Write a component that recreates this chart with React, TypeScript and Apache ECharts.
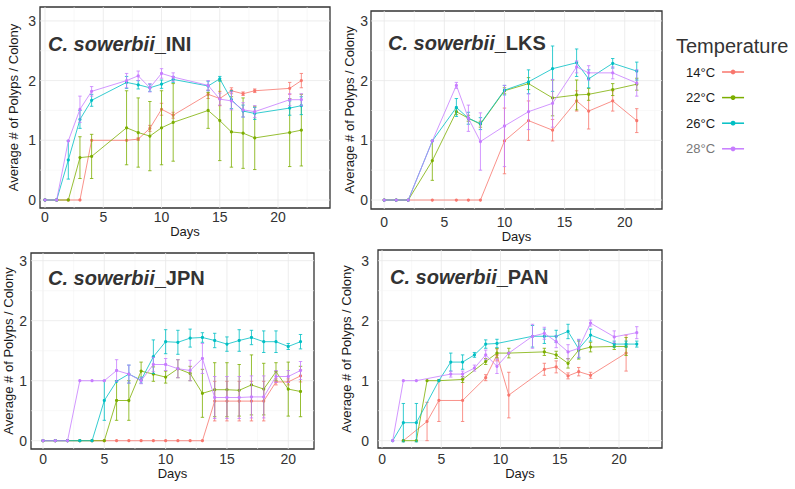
import React, { useEffect, useRef } from "react";
import * as echarts from "echarts";

const FONT = "'Liberation Sans', Arial, Helvetica, sans-serif";
const TEMPS = ["14°C", "22°C", "26°C", "28°C"];
const COLORS = ["#F8766D", "#7CAE00", "#00BFC4", "#C77CFF"];
const X_BREAKS = [0, 5, 10, 15, 20];
const X_MINOR = [2.5, 7.5, 12.5, 17.5, 22.5];
const Y_BREAKS = [0, 1, 2, 3];
const Y_MINOR = [0.5, 1.5, 2.5];

// ---- C. sowerbii_INI ----
const INI_DAYS = [0, 1, 2, 3, 4, 7, 8, 9, 10, 11, 14, 15, 16, 17, 18, 21, 22];
const INI_14 = [0, 0, 0, 0, 1.0, 1.0, 1.02, 1.2, 1.52, 1.42, 1.77, 1.7, 1.83, 1.78, 1.83, 1.87, 2.0];
const INI_14_ERR = [0, 0, 0, 0, 0, 0, 0.02, 0.05, 0.1, 0.05, 0.07, 0.12, 0.05, 0.03, 0.03, 0.1, 0.12];
const INI_22 = [0, 0, 0, 0.71, 0.73, 1.21, 1.13, 1.07, 1.21, 1.3, 1.5, 1.33, 1.14, 1.12, 1.04, 1.13, 1.17];
const INI_22_ERR = [0, 0, 0, 0.35, 0.37, 0.62, 0.58, 0.58, 0.62, 0.65, 0.3, 0.67, 0.59, 0.59, 0.53, 0.57, 0.6];
const INI_26 = [0, 0, 0.67, 1.35, 1.67, 1.97, 1.93, 1.88, 1.94, 2.02, 1.91, 2.03, 1.68, 1.49, 1.45, 1.54, 1.58];
const INI_26_ERR = [0, 0, 0.32, 0.15, 0.1, 0.1, 0.07, 0.06, 0.07, 0.05, 0.08, 0.04, 0.15, 0.1, 0.1, 0.12, 0.15];
const INI_28 = [0, 0, 0.99, 1.52, 1.82, 2.0, 2.08, 1.88, 2.12, 2.06, 1.92, 1.69, 1.66, 1.51, 1.48, 1.68, 1.68];
const INI_28_ERR = [0, 0, 0, 0.22, 0.08, 0.12, 0.08, 0.07, 0.08, 0.07, 0.08, 0.1, 0.15, 0.12, 0.1, 0.1, 0.1];

// ---- C. sowerbii_LKS ----
const LKS_DAYS = [0, 1, 2, 4, 6, 7, 8, 10, 12, 14, 16, 17, 19, 21];
const LKS_14 = [0, 0, 0, 0, 0, 0, 0, 0.99, 1.33, 1.17, 1.66, 1.49, 1.66, 1.33];
const LKS_14_ERR = [0, 0, 0, 0, 0, 0, 0, 0.55, 0.33, 0.18, 0.17, 0.3, 0.17, 0.2];
const LKS_22 = [0, 0, 0, 0.66, 1.48, 1.37, 1.27, 1.83, 1.95, 1.71, 1.76, 1.77, 1.85, 1.94];
const LKS_22_ERR = [0, 0, 0, 0.33, 0.05, 0.05, 0.05, 0.05, 0.1, 0.3, 0.25, 0.1, 0.1, 0.1];
const LKS_26 = [0, 0, 0, 0.99, 1.55, 1.37, 1.28, 1.84, 1.98, 2.2, 2.3, 2.03, 2.29, 2.16];
const LKS_26_ERR = [0, 0, 0, 0, 0.15, 0.1, 0.1, 0.08, 0.2, 0.38, 0.23, 0.15, 0.08, 0.15];
const LKS_28 = [0, 0, 0, 0.99, 1.92, 1.37, 0.98, 1.24, 1.48, 1.62, 2.23, 2.13, 2.13, 1.96];
const LKS_28_ERR = [0, 0, 0, 0, 0.05, 0.22, 0.48, 0.68, 0.3, 0.4, 0.1, 0.12, 0.1, 0.22];

// ---- C. sowerbii_JPN ----
const JPN_DAYS = [0, 1, 2, 3, 4, 5, 6, 7, 8, 9, 10, 11, 12, 13, 14, 15, 16, 17, 18, 19, 20, 21];
const JPN_14 = [0, 0, 0, 0, 0, 0, 0, 0, 0, 0, 0, 0, 0, 0, 0.66, 0.66, 0.66, 0.66, 0.66, 0.98, 0.98, 1.08];
const JPN_14_ERR = [0, 0, 0, 0, 0, 0, 0, 0, 0, 0, 0, 0, 0, 0, 0.33, 0.33, 0.33, 0.33, 0.33, 0.05, 0.05, 0.1];
const JPN_22 = [0, 0, 0, 0, 0, 0, 0.67, 0.67, 1.16, 1.11, 1.06, 1.2, 1.12, 0.79, 0.85, 0.85, 0.84, 0.93, 0.86, 1.15, 0.86, 0.82];
const JPN_22_ERR = [0, 0, 0, 0, 0, 0, 0.33, 0.33, 0.15, 0.12, 0.1, 0.15, 0.12, 0.4, 0.45, 0.45, 0.43, 0.5, 0.43, 0.15, 0.45, 0.42];
const JPN_26 = [0, 0, 0, 0, 0, 0.67, 0.99, 1.11, 1.01, 1.4, 1.65, 1.64, 1.71, 1.72, 1.67, 1.61, 1.67, 1.72, 1.65, 1.65, 1.57, 1.65];
const JPN_26_ERR = [0, 0, 0, 0, 0, 0.33, 0, 0.15, 0.05, 0.28, 0.2, 0.2, 0.15, 0.08, 0.12, 0.12, 0.18, 0.12, 0.18, 0.18, 0.05, 0.12];
const JPN_28 = [0, 0, 0, 1.0, 1.0, 1.0, 1.17, 1.11, 1.0, 1.27, 1.27, 1.2, 1.17, 1.37, 0.72, 0.72, 0.72, 0.73, 0.73, 1.07, 1.07, 1.17];
const JPN_28_ERR = [0, 0, 0, 0, 0, 0, 0.18, 0.15, 0.05, 0.12, 0.1, 0.15, 0.17, 0.25, 0.35, 0.35, 0.35, 0.35, 0.35, 0.1, 0.1, 0.15];

// ---- C. sowerbii_PAN ----
const PAN_DAYS = [0.9, 1.8, 2.9, 3.8, 4.8, 5.8, 6.8, 7.8, 8.75, 9.7, 10.7, 12.7, 13.7, 14.7, 15.7, 16.6, 17.6, 19.6, 20.6, 21.5];
const PAN_14 = [null, 0, null, 0.32, 0.67, null, 0.67, null, 1.05, 1.43, 0.76, null, 1.19, 1.23, 1.08, 1.15, 1.09, null, 1.46, null];
const PAN_14_ERR = [0, 0, 0, 0.32, 0.35, 0, 0.35, 0, 0.05, 0.1, 0.38, 0, 0.1, 0.1, 0.05, 0.07, 0.05, 0, 0.3, 0];
const PAN_22 = [null, 0, 0, 1.0, 1.0, null, 1.02, null, 1.32, 1.46, 1.46, null, 1.48, 1.43, 1.29, 1.51, 1.56, 1.57, 1.57, null];
const PAN_22_ERR = [0, 0, 0, 0, 0, 0, 0.05, 0, 0.05, 0.08, 0.08, 0, 0.06, 0.06, 0.08, 0.15, 0.08, 0.05, 0.15, 0];
const PAN_26 = [0, 0.3, 0.3, null, 1.0, 1.31, 1.31, 1.43, 1.61, 1.62, null, 1.74, 1.74, 1.74, 1.82, 1.53, 1.76, 1.61, 1.61, 1.61];
const PAN_26_ERR = [0, 0.32, 0.32, 0, 0, 0.15, 0.12, 0.04, 0.07, 0.07, 0, 0.18, 0.12, 0.1, 0.12, 0.15, 0.1, 0.05, 0.05, 0.05];
const PAN_28 = [0, 1.0, 1.0, null, null, 1.11, 1.11, 1.21, 1.43, 1.24, 1.46, 1.74, 1.79, 1.65, 1.48, 1.54, 1.96, 1.73, null, 1.8];
const PAN_28_ERR = [0, 0, 0, 0, 0, 0.05, 0.05, 0.05, 0.08, 0.12, 0, 0.2, 0.1, 0.1, 0.12, 0.15, 0.05, 0.1, 0, 0.1];

type Panel = {
  code: string;
  days: number[];
  vals: (number | null)[][];
  errs: number[][];
  rect: { left: number; top: number; width: number; height: number };
  x: [number, number];
  y: [number, number];
  yNameGap: number;
  xNameGap: number;
  yLabelMargin: number;
  xLabelMargin: number;
  title: { left: number; top: number };
};

const PANELS: Panel[] = [
  {
    code: "INI", days: INI_DAYS,
    vals: [INI_14, INI_22, INI_26, INI_28], errs: [INI_14_ERR, INI_22_ERR, INI_26_ERR, INI_28_ERR],
    rect: { left: 40, top: 7, width: 290, height: 201 },
    x: [-0.43, 24.46], y: [-0.134, 3.233],
    yNameGap: 20, xNameGap: 15, yLabelMargin: 4, xLabelMargin: 2,
    title: { left: 48, top: 34 },
  },
  {
    code: "LKS", days: LKS_DAYS,
    vals: [LKS_14, LKS_22, LKS_26, LKS_28], errs: [LKS_14_ERR, LKS_22_ERR, LKS_26_ERR, LKS_28_ERR],
    rect: { left: 371, top: 11, width: 291, height: 198 },
    x: [-1.1, 23.1], y: [-0.15, 3.166],
    yNameGap: 15, xNameGap: 18, yLabelMargin: 3, xLabelMargin: 6,
    title: { left: 388, top: 33 },
  },
  {
    code: "JPN", days: JPN_DAYS,
    vals: [JPN_14, JPN_22, JPN_26, JPN_28], errs: [JPN_14_ERR, JPN_22_ERR, JPN_26_ERR, JPN_28_ERR],
    rect: { left: 31, top: 253, width: 283, height: 196 },
    x: [-0.98, 22.1], y: [-0.138, 3.128],
    yNameGap: 12, xNameGap: 15, yLabelMargin: 4, xLabelMargin: 3,
    title: { left: 48, top: 268 },
  },
  {
    code: "PAN", days: PAN_DAYS,
    vals: [PAN_14, PAN_22, PAN_26, PAN_28], errs: [PAN_14_ERR, PAN_22_ERR, PAN_26_ERR, PAN_28_ERR],
    rect: { left: 378, top: 250, width: 284, height: 198 },
    x: [-0.34, 23.63], y: [-0.122, 3.178],
    yNameGap: 25, xNameGap: 19, yLabelMargin: 9, xLabelMargin: 4,
    title: { left: 390, top: 267 },
  },
];

function buildOption() {
  const grid: any[] = [];
  const xAxis: any[] = [];
  const yAxis: any[] = [];
  const series: any[] = [];
  const title: any[] = [];

  PANELS.forEach((p, i) => {
    grid.push({ ...p.rect, show: true, borderColor: "#333", borderWidth: 1.3, containLabel: false });
    xAxis.push({
      type: "value", gridIndex: i, min: p.x[0], max: p.x[1],
      name: "Days", nameLocation: "middle", nameGap: p.xNameGap,
      nameTextStyle: { fontSize: 13, color: "#1a1a1a", fontFamily: FONT },
      axisLine: { show: false }, axisTick: { show: false }, splitLine: { show: false },
      axisLabel: { customValues: X_BREAKS, fontSize: 14, color: "#333", margin: p.xLabelMargin, fontFamily: FONT },
    });
    yAxis.push({
      type: "value", gridIndex: i, min: p.y[0], max: p.y[1],
      name: "Average # of Polyps / Colony", nameLocation: "middle", nameRotate: 90, nameGap: p.yNameGap,
      nameTextStyle: { fontSize: 13, color: "#1a1a1a", fontFamily: FONT },
      axisLine: { show: false }, axisTick: { show: false }, splitLine: { show: false },
      axisLabel: { customValues: Y_BREAKS, fontSize: 14, color: "#333", margin: p.yLabelMargin, fontFamily: FONT },
    });

    // background grid lines (major + minor), drawn through the axes' scales
    const gridData: number[][] = [];
    X_BREAKS.forEach((v) => gridData.push([v, p.y[0], 0]));
    X_MINOR.filter((v) => v < p.x[1]).forEach((v) => gridData.push([v, p.y[0], 1]));
    Y_BREAKS.forEach((v) => gridData.push([p.x[0], v, 2]));
    Y_MINOR.forEach((v) => gridData.push([p.x[0], v, 3]));
    series.push({
      type: "custom", xAxisIndex: i, yAxisIndex: i, silent: true, z: 1,
      data: gridData, encode: { x: 0, y: 1 },
      renderItem: (params: any, api: any) => {
        const cs = params.coordSys;
        const kind = api.value(2);
        const pt = api.coord([api.value(0), api.value(1)]);
        const major = kind === 0 || kind === 2;
        const style = { stroke: major ? "#e9e9e9" : "#f4f4f4", lineWidth: major ? 0.8 : 0.6 };
        if (kind <= 1) {
          return { type: "line", shape: { x1: pt[0], y1: cs.y, x2: pt[0], y2: cs.y + cs.height }, style };
        }
        return { type: "line", shape: { x1: cs.x, y1: pt[1], x2: cs.x + cs.width, y2: pt[1] }, style };
      },
    });

    TEMPS.forEach((t, k) => {
      const color = COLORS[k];
      const vals = p.vals[k];
      const errs = p.errs[k];
      const errData: number[][] = [];
      const lineData: number[][] = [];
      p.days.forEach((d, j) => {
        const v = vals[j];
        if (v === null || v === undefined) return;
        lineData.push([d, v]);
        if (errs[j] > 0) errData.push([d, v - errs[j], v + errs[j]]);
      });
      series.push({
        type: "custom", name: t + " err", xAxisIndex: i, yAxisIndex: i, silent: true, z: 2 + k,
        data: errData, encode: { x: 0, y: [1, 2] },
        renderItem: (params: any, api: any) => {
          const x = api.value(0);
          const a = api.coord([x, api.value(1)]);
          const b = api.coord([x, api.value(2)]);
          const c = 1.7;
          const style = { stroke: color, lineWidth: 0.8 };
          return {
            type: "group",
            children: [
              { type: "line", shape: { x1: a[0], y1: a[1], x2: b[0], y2: b[1] }, style },
              { type: "line", shape: { x1: a[0] - c, y1: a[1], x2: a[0] + c, y2: a[1] }, style },
              { type: "line", shape: { x1: b[0] - c, y1: b[1], x2: b[0] + c, y2: b[1] }, style },
            ],
          };
        },
      });
      series.push({
        type: "line", name: t, xAxisIndex: i, yAxisIndex: i, z: 2 + k,
        data: lineData, color,
        symbol: "circle", symbolSize: 3.2, showSymbol: true,
        lineStyle: { width: 0.8, color }, itemStyle: { color },
        connectNulls: true,
      });
    });

    title.push({
      text: "{i|C. sowerbii}{n|_" + p.code + "}",
      left: p.title.left, top: p.title.top, padding: 0,
      textStyle: {
        rich: {
          i: { fontStyle: "italic", fontWeight: "bold", fontSize: 20, color: "#333", fontFamily: FONT },
          n: { fontWeight: "bold", fontSize: 20, color: "#333", fontFamily: FONT },
        },
      },
    });
  });

  title.push({
    text: "Temperature", left: 676, top: 36, padding: 0,
    textStyle: { fontSize: 20, fontWeight: "normal", color: "#333", fontFamily: FONT },
  });

  return {
    animation: false,
    backgroundColor: "#ffffff",
    title,
    legend: {
      data: TEMPS.map((t, k) => ({ name: t, textStyle: k === 3 ? { color: "#777" } : undefined })),
      orient: "vertical", left: 686, top: 65, itemGap: 11.6, padding: 0,
      itemWidth: 22, itemHeight: 6, align: "right", selectedMode: false,
      lineStyle: { width: 1.5 },
      textStyle: { fontSize: 13, color: "#1a1a1a", lineHeight: 14, fontFamily: FONT, padding: [0, 2, 0, 0] },
    },
    grid, xAxis, yAxis, series,
  };
}

export default function App() {
  const ref = useRef<HTMLDivElement>(null);
  useEffect(() => {
    if (!ref.current) return;
    const chart = echarts.init(ref.current, undefined, { renderer: "svg" });
    chart.setOption(buildOption() as any);
    return () => chart.dispose();
  }, []);
  return (
    <div
      ref={ref}
      style={{ position: "absolute", left: 0, top: 0, width: 795, height: 489, background: "#fff" }}
    />
  );
}
